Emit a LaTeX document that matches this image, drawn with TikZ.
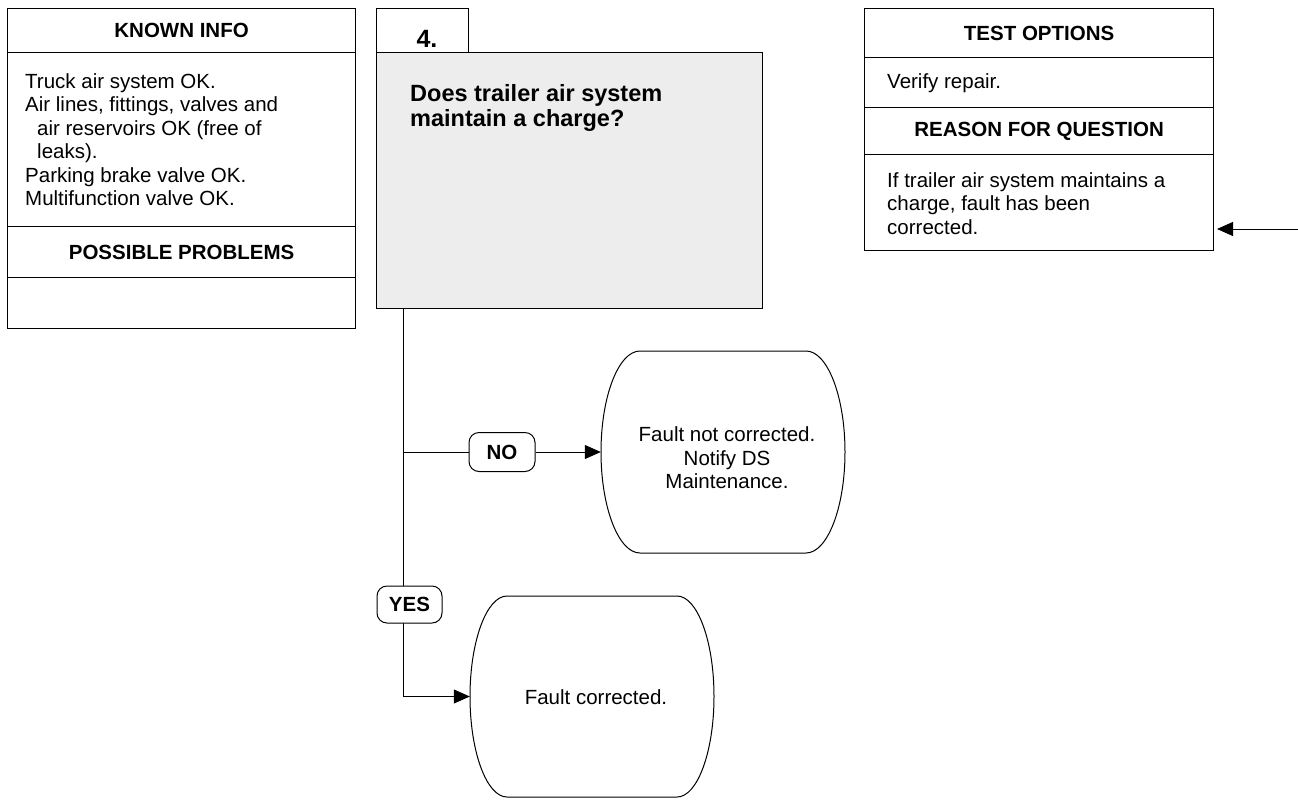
\documentclass[tikz,border=0pt]{standalone}
\usepackage{fontspec}
\setmainfont{Liberation Sans}
\usetikzlibrary{arrows.meta,calc}
\newcommand\termoutline[5]{%
  \draw[termline,shift={(#1,#2)}] (-#3+#5,-#4) -- (#3-#5,-#4)
    .. controls (#3-0.45*#5,-#4) and (#3,-0.55*#4) .. (#3,0)
    .. controls (#3,0.55*#4) and (#3-0.45*#5,#4) .. (#3-#5,#4)
    -- (-#3+#5,#4)
    .. controls (-#3+0.45*#5,#4) and (-#3,0.55*#4) .. (-#3,0)
    .. controls (-#3,-0.55*#4) and (-#3+0.45*#5,-#4) .. cycle;}
\begin{document}
\begin{tikzpicture}[x=1pt,y=-1pt,
  hdr/.style={draw, line width=1.2pt, inner sep=0, anchor=north west, font=\fontsize{20.5}{23.5}\selectfont\bfseries},
  cell/.style={draw, line width=1.2pt, inner sep=0, anchor=north west},
  body/.style={anchor=north west, inner sep=0, align=left, font=\fontsize{20.5}{23.5}\selectfont},
  conn/.style={line width=1pt},
  arr/.style={conn, -{Triangle[length=16pt,width=14pt]}},
  lbl/.style={draw, line width=1pt, fill=white, rounded corners=10pt, inner sep=0, font=\fontsize{20.5}{23.5}\selectfont\bfseries},
  termbox/.style={inner sep=0, minimum width=244pt},
  termtext/.style={inner sep=0, align=center, font=\fontsize{20.5}{23.5}\selectfont},
  termline/.style={line width=1pt}]
\useasboundingbox (0,0) rectangle (1298,804);

% Known info panel
\node[hdr, minimum width=348pt, minimum height=44pt] (kihead) at (7,8) {KNOWN INFO};
\node[cell, minimum width=348pt, minimum height=174pt] (kibody) at (7,52) {};
\node[hdr, minimum width=348pt, minimum height=51pt] (pphead) at (7,226) {POSSIBLE PROBLEMS};
\node[cell, minimum width=348pt, minimum height=51pt] (ppbody) at (7,277) {};
\node[body] (kitext) at (25,73) {Truck air system OK.\\
Air lines, fittings, valves and\\
\hspace*{12pt}air reservoirs OK (free of\\
\hspace*{12pt}leaks).\\
Parking brake valve OK.\\
Multifunction valve OK.};

% Question
\node[cell, minimum width=92pt, minimum height=44pt] (tab) at (376,8) {};
\node[anchor=base, inner sep=0, font=\fontsize{25}{28}\selectfont\bfseries] (num) at (427,47) {4.};
\node[cell, fill=black!7, minimum width=386pt, minimum height=256pt] (qbox) at (376,52) {};
\node[body, font=\fontsize{23.5}{25.5}\selectfont\bfseries] (qtext) at (410,84) {Does trailer air system\\maintain a charge?};

% Test options panel
\node[hdr, minimum width=349pt, minimum height=49pt] (tohead) at (864,8) {TEST OPTIONS};
\node[cell, minimum width=349pt, minimum height=50pt] (tobody) at (864,57) {};
\node[hdr, minimum width=349pt, minimum height=47pt] (rfqhead) at (864,107) {REASON FOR QUESTION};
\node[cell, minimum width=349pt, minimum height=96pt] (rfqbody) at (864,154) {};
\node[body] (totext) at (887,73) {Verify repair.};
\node[body] (rfqtext) at (887,172) {If trailer air system maintains a\\charge, fault has been\\corrected.};

\coordinate (ain) at (1298,229);
\coordinate (aout) at (1217,229);
\draw[arr] (ain) -- (aout);

% Terminals
\node[termbox, minimum height=202pt] (noterm) at (723,452) {};
\termoutline{723}{452}{122}{101}{39}
\node[termtext] (notxt) at (727,458) {Fault not corrected.\\Notify DS\\Maintenance.};

\node[termbox, minimum height=201pt] (yesterm) at (592,696.5) {};
\termoutline{592}{696.5}{122}{100.5}{37}
\node[termtext] (yestxt) at (596,697) {Fault corrected.};

% Connectors
\node[lbl, minimum width=66pt, minimum height=39pt] (nolbl) at (502,452) {NO};
\coordinate (qout) at (403,308);
\coordinate (nobr) at (403,452);
\draw[arr] (qout) |- (yesterm.west);
\draw[conn] (nobr) -- (nolbl.west);
\draw[arr] (nolbl.east) -- (noterm.west);
\node[lbl, minimum width=65pt, minimum height=37pt] (yeslbl) at (409.5,604.5) {YES};
\end{tikzpicture}
\end{document}
